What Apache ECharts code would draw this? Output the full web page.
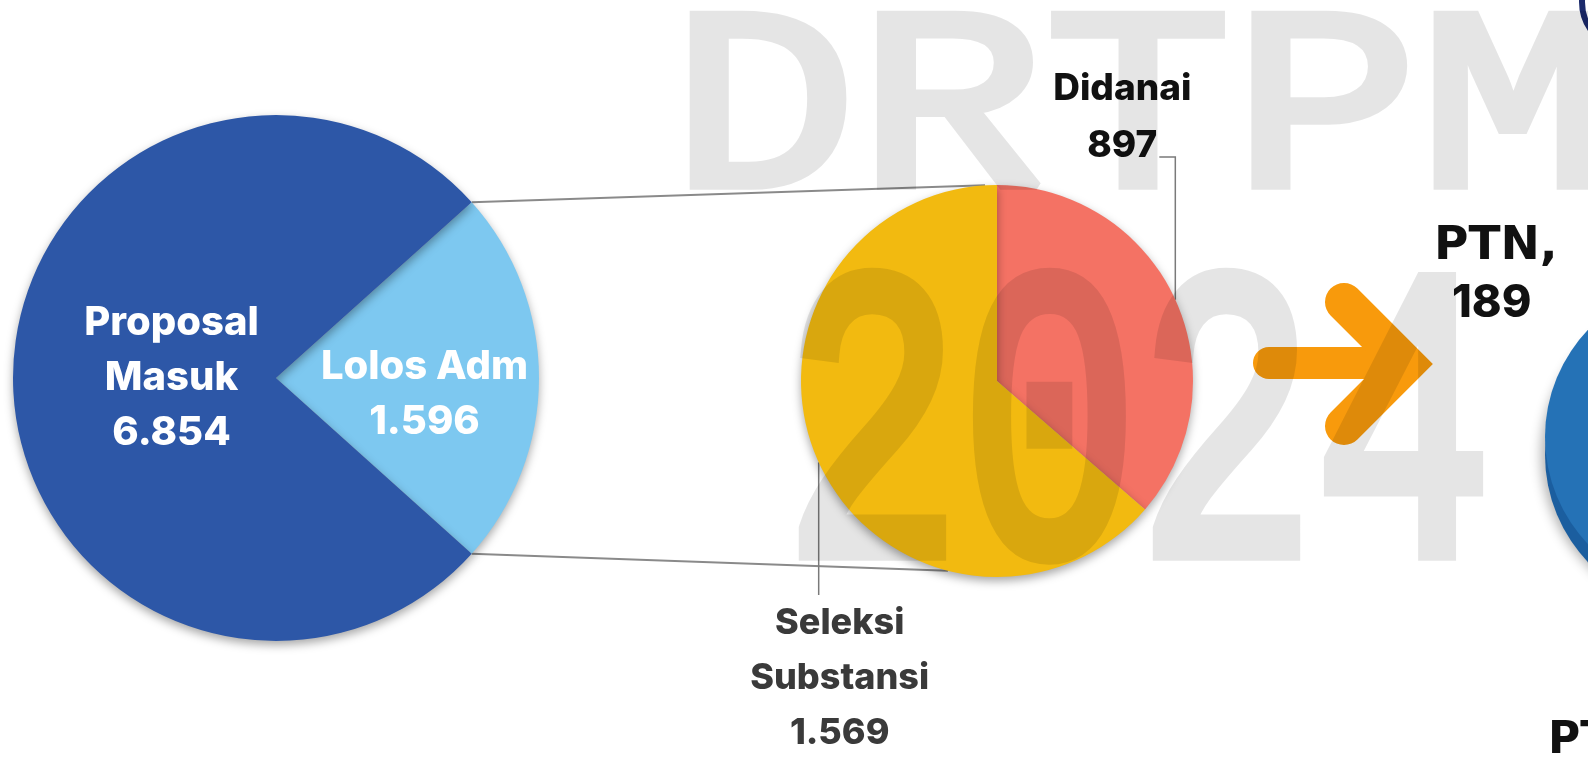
<!DOCTYPE html>
<html><head><meta charset="utf-8">
<script src="https://cdn.jsdelivr.net/npm/echarts/dist/echarts.min.js"></script>
<style>html,body{margin:0;padding:0;background:#fff;overflow:hidden}#c{width:1588px;height:757px}</style>
</head><body><div id="c"></div>
<script>
// ---- data ----
const stageNames = ['Proposal Masuk', 'Lolos Adm'];
const stageValues = [6854, 1596];
const substansiNames = ['Didanai', 'Seleksi Substansi'];
const substansiValues = [897, 1569];
const ptnNames = ['PTN'];
const ptnValues = [189];
const cutLabel = 'PT';
const watermarkTop = 'DRTPM';
const watermarkBottom = '2024';

// ---- helpers ----
const fmt = v => String(v).replace(/\B(?=(\d{3})+(?!\d))/g, '.');
const rad = d => d * Math.PI / 180;
const polar = (c, r, deg) => [c[0] + r * Math.cos(rad(deg)), c[1] - r * Math.sin(rad(deg))];

const FONT = 'Inter, "Open Sans", sans-serif';
const WIDE = '"DejaVu Sans", Inter, sans-serif';
const leftC = [276, 378], leftR = 263;
const rightC = [997, 381], rightR = 196;
const ptnC = [1700, 437], ptnR = 155;

// left pie: Lolos Adm is a share of all proposals
const lolosHalf = stageValues[1] / stageValues[0] * 180;
const leftData = [
  { name: stageNames[1], value: stageValues[1], shown: stageValues[1], itemStyle: { color: '#7DC8F0' } },
  { name: stageNames[0], value: stageValues[0] - stageValues[1], shown: stageValues[0], itemStyle: { color: '#2D57A7' } }
];
const rightData = [
  { name: substansiNames[0], value: substansiValues[0], itemStyle: { color: '#F47264' } },
  { name: substansiNames[1], value: substansiValues[1], itemStyle: { color: '#F2BA10' } }
];
const rightTotal = substansiValues[0] + substansiValues[1];
const rightMid = [];
(function () {
  let acc = 0;
  substansiValues.forEach(v => { rightMid.push(90 - (acc + v / 2) / rightTotal * 360); acc += v; });
})();
const rightAnchor = rightMid.map(a => polar(rightC, rightR, a));

const lTop = polar(leftC, leftR, lolosHalf), lBot = polar(leftC, leftR, -lolosHalf);
const rTop = polar(rightC, rightR, 93.5), rBot = polar(rightC, rightR, 255.5);

const rightRich = {
  n0: { fontFamily: FONT, fontWeight: 800, fontSize: 37, lineHeight: 57, color: '#111' },
  n1: { fontFamily: FONT, fontWeight: 800, fontSize: 36, lineHeight: 55, color: '#3a3a3a' }
};

const WM = { fill: '#000', stroke: '#000', lineWidth: 10, lineJoin: 'round', verticalAlign: 'middle' };

const chart = echarts.init(document.getElementById('c'), null, { renderer: 'canvas' });
chart.setOption({
  backgroundColor: '#ffffff',
  animation: false,
  series: [
    {
      type: 'pie', center: leftC, radius: leftR, startAngle: lolosHalf, clockwise: true,
      silent: true, data: leftData,
      itemStyle: { shadowBlur: 10, shadowColor: 'rgba(0,0,0,0.35)', shadowOffsetY: 4 },
      label: {
        show: true, position: 'inside', color: '#fff', fontFamily: FONT, fontWeight: 800,
        fontSize: 40, lineHeight: 55, align: 'center',
        formatter: p => (p.dataIndex === 1 ? p.name.split(' ').join('\n') : p.name) + '\n' + fmt(p.data.shown)
      },
      labelLayout: p => ({ dx: p.dataIndex === 1 ? 30 : 14, dy: p.dataIndex === 1 ? 0 : 16 }),
      labelLine: { show: false }
    },
    {
      type: 'pie', center: rightC, radius: rightR, startAngle: 90, clockwise: true,
      silent: true, data: rightData,
      itemStyle: { shadowBlur: 10, shadowColor: 'rgba(0,0,0,0.35)', shadowOffsetY: 4 },
      label: {
        show: true, position: 'outside', align: 'center',
        formatter: p => {
          const k = 'n' + p.dataIndex;
          return p.name.split(' ').map(w => '{' + k + '|' + w + '}').join('\n') + '\n{' + k + '|' + fmt(p.value) + '}';
        },
        rich: rightRich
      },
      labelLine: { show: true, lineStyle: { color: '#7a7a7a', width: 1.5 } },
      labelLayout: p => {
        const a = rightAnchor[p.dataIndex];
        if (p.dataIndex === 0) {
          return { x: a[0] - 53, y: 117, align: 'center', verticalAlign: 'middle',
            labelLinePoints: [[a[0], a[1]], [a[0], 157], [a[0] - 16, 157]] };
        }
        return { x: a[0] + 21, y: 678, align: 'center', verticalAlign: 'middle',
          labelLinePoints: [[a[0], a[1]], [a[0], 594], [a[0], 595]] };
      }
    },
    {
      type: 'pie', center: [ptnC[0], ptnC[1] + 18], radius: ptnR, startAngle: 90, silent: true,
      data: ptnNames.map((n, i) => ({ name: n, value: ptnValues[i] })),
      itemStyle: { color: '#1B5E9F', shadowBlur: 12, shadowColor: 'rgba(0,0,0,0.3)', shadowOffsetX: -4 },
      label: { show: false }, labelLine: { show: false }
    },
    {
      type: 'pie', center: ptnC, radius: ptnR, startAngle: 90, silent: true,
      data: ptnNames.map((n, i) => ({ name: n, value: ptnValues[i] })),
      itemStyle: { color: '#2572B6' },
      label: {
        show: true, position: 'center',
        formatter: p => '{a|' + p.name + ',}\n{b|' + p.value + '}',
        rich: {
          a: { fontFamily: WIDE, fontWeight: 'bold', fontSize: 47, color: '#111', lineHeight: 56, align: 'left' },
          b: { fontFamily: FONT, fontWeight: 800, fontSize: 45, color: '#111', lineHeight: 56, align: 'left', padding: [0, 0, 0, 18] }
        }
      },
      labelLine: { show: false },
      labelLayout: () => ({ x: 1434, y: 275, align: 'left', verticalAlign: 'middle' })
    }
  ],
  graphic: [
    { type: 'line', z: 1, shape: { x1: lTop[0], y1: lTop[1], x2: rTop[0], y2: rTop[1] }, style: { stroke: '#8a8a8a', lineWidth: 2 } },
    { type: 'line', z: 1, shape: { x1: lBot[0], y1: lBot[1], x2: rBot[0], y2: rBot[1] }, style: { stroke: '#8a8a8a', lineWidth: 2 } },
    { type: 'polyline', z: 5, shape: { points: [[1269, 363], [1400, 363]] }, style: { stroke: '#F89A0C', lineWidth: 32, lineCap: 'round', fill: null } },
    { type: 'polyline', z: 5, shape: { points: [[1344, 302], [1406, 364], [1344, 426]] }, style: { stroke: '#F89A0C', lineWidth: 38, lineCap: 'round', lineJoin: 'miter', fill: null } },
    { type: 'text', z: 5, x: 1548, y: 720, style: { text: cutLabel, font: 'bold 44px ' + WIDE, fill: '#111', verticalAlign: 'top' } },
    { type: 'circle', z: 5, shape: { cx: 1630, cy: 2, r: 48 }, style: { fill: 'none', stroke: '#1B2A6B', lineWidth: 6 } },
    { type: 'text', zlevel: 1, z: 100, x: 670, y: 117, scaleY: 0.83, originX: 0, originY: 0,
      style: Object.assign({ text: watermarkTop, font: 'normal 312px "Liberation Mono", monospace' }, WM) },
    { type: 'text', zlevel: 1, z: 100, x: 784, y: 443, scaleY: 1.40, originX: 0, originY: 0,
      style: Object.assign({ text: watermarkBottom, font: 'normal 295px "Liberation Mono", monospace' }, WM, { lineWidth: 12 }) }
  ]
});
// the watermark layer is painted solid and then made translucent as a whole
try {
  const layer = chart.getZr().painter.getLayer(1);
  if (layer && layer.dom) layer.dom.style.opacity = '0.1';
} catch (e) {}
</script>
</body></html>
